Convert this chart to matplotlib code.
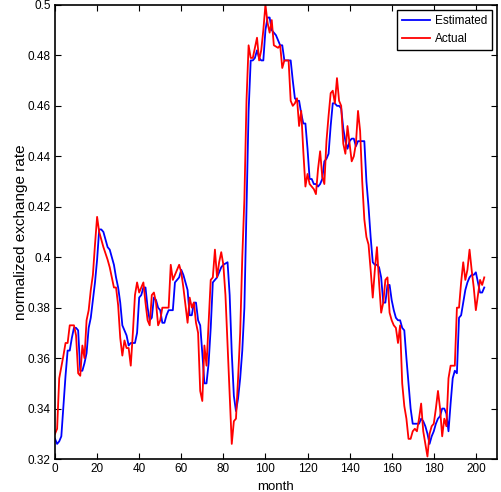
import matplotlib.pyplot as plt

plt.rcParams['font.family'] = ['Liberation Sans Narrow', 'Liberation Sans', 'DejaVu Sans']

# Actual (red)
actual_month = [0, 1, 2, 4, 5, 6, 7, 9, 10, 11, 12, 13, 14, 15, 16, 17, 18, 19, 20,
                21, 22, 23, 25, 26, 28, 29, 30, 31, 32, 33, 34, 35, 36, 37, 38, 39,
                40, 41, 42, 43, 44, 45, 46, 47, 48, 49, 50, 51, 52, 54, 55, 56, 57,
                59, 60, 61, 63, 64, 65, 66, 67, 68, 69, 70, 71, 72, 74, 75, 76, 77,
                78, 79, 80, 81, 82, 83, 84, 85, 86, 87, 88, 89, 90, 91, 92, 93, 94,
                95, 96, 97, 98, 99, 100, 101, 102, 103, 104, 106, 107, 108, 109, 111,
                112, 113, 114, 115, 116, 117, 118, 119, 120, 121, 123, 124, 125, 126,
                127, 128, 129, 130, 131, 132, 133, 134, 135, 136, 137, 138, 139, 140,
                141, 142, 143, 144, 145, 146, 147, 148, 149, 150, 151, 152, 153, 154,
                155, 156, 157, 158, 159, 160, 161, 162, 163, 164, 165, 166, 167, 168,
                169, 170, 171, 172, 173, 174, 175, 176, 177, 178, 179, 180, 181, 182,
                183, 184, 185, 186, 187, 188, 190, 191, 192, 193, 194, 195, 196, 197,
                198, 199, 200, 201, 202, 203, 204]
actual_val = [0.330, 0.332, 0.352, 0.361, 0.366, 0.366, 0.373, 0.373, 0.369, 0.354,
              0.353, 0.365, 0.360, 0.375, 0.379, 0.387, 0.393, 0.405, 0.416, 0.410,
              0.407, 0.404, 0.399, 0.396, 0.388, 0.388, 0.381, 0.368, 0.361, 0.367,
              0.364, 0.364, 0.357, 0.370, 0.385, 0.390, 0.386, 0.388, 0.390, 0.382,
              0.375, 0.373, 0.385, 0.386, 0.382, 0.373, 0.375, 0.380, 0.380, 0.380,
              0.397, 0.391, 0.393, 0.397, 0.394, 0.388, 0.374, 0.384, 0.380, 0.382,
              0.374, 0.370, 0.347, 0.343, 0.365, 0.357, 0.391, 0.392, 0.403, 0.392,
              0.398, 0.402, 0.397, 0.385, 0.365, 0.345, 0.326, 0.335, 0.336, 0.352,
              0.370, 0.400, 0.423, 0.462, 0.484, 0.479, 0.479, 0.483, 0.487, 0.478,
              0.482, 0.490, 0.500, 0.493, 0.489, 0.494, 0.484, 0.483, 0.484, 0.475,
              0.478, 0.478, 0.462, 0.460, 0.461, 0.463, 0.452, 0.458, 0.442, 0.428,
              0.433, 0.429, 0.427, 0.425, 0.435, 0.442, 0.432, 0.429, 0.446, 0.456,
              0.465, 0.466, 0.461, 0.471, 0.462, 0.460, 0.445, 0.441, 0.452, 0.445,
              0.438, 0.440, 0.445, 0.458, 0.450, 0.430, 0.415, 0.408, 0.405, 0.395,
              0.384, 0.395, 0.404, 0.390, 0.378, 0.382, 0.391, 0.392, 0.378, 0.375,
              0.373, 0.372, 0.366, 0.373, 0.350, 0.341, 0.336, 0.328, 0.328, 0.331,
              0.332, 0.331, 0.336, 0.342, 0.331, 0.326, 0.321, 0.330, 0.333, 0.334,
              0.340, 0.347, 0.340, 0.329, 0.336, 0.333, 0.352, 0.357, 0.357, 0.380,
              0.380, 0.390, 0.398, 0.391, 0.395, 0.403, 0.395, 0.388, 0.379, 0.385,
              0.391, 0.389, 0.392]

# Estimated (blue)
est_month = list(range(0, 81)) + [82] + list(range(83, 110)) + list(range(112, 205))
est_val = [0.328, 0.326, 0.327, 0.329, 0.341, 0.353, 0.363, 0.363, 0.368, 0.372,
           0.372, 0.371, 0.355, 0.355, 0.358, 0.362, 0.372, 0.376, 0.383, 0.390,
           0.399, 0.411, 0.411, 0.410, 0.407, 0.404, 0.403, 0.400, 0.397, 0.392,
           0.388, 0.382, 0.373, 0.371, 0.369, 0.365, 0.366, 0.366, 0.366, 0.370,
           0.384, 0.385, 0.388, 0.388, 0.380, 0.375, 0.376, 0.384, 0.383, 0.380,
           0.379, 0.374, 0.374, 0.377, 0.379, 0.379, 0.379, 0.390, 0.391, 0.392,
           0.395, 0.393, 0.390, 0.387, 0.377, 0.377, 0.382, 0.382, 0.375, 0.373,
           0.362, 0.350, 0.350, 0.358, 0.372, 0.390, 0.391, 0.392, 0.394, 0.396,
           0.397,
           0.398,
           0.385, 0.362, 0.345, 0.339, 0.344, 0.352, 0.363, 0.380, 0.420, 0.458,
           0.478, 0.478, 0.479, 0.482, 0.479, 0.478, 0.478, 0.490, 0.495, 0.495,
           0.490, 0.489, 0.488, 0.486, 0.484, 0.484, 0.478,
           0.478, 0.470, 0.463, 0.462, 0.462, 0.457, 0.453, 0.453, 0.443, 0.431,
           0.431, 0.429, 0.429, 0.428, 0.429, 0.431, 0.438, 0.439, 0.441, 0.452,
           0.461, 0.461, 0.460, 0.460, 0.459, 0.451, 0.446, 0.443, 0.446, 0.447,
           0.447, 0.444, 0.446, 0.446, 0.446, 0.446, 0.430, 0.420, 0.408, 0.398,
           0.397, 0.397, 0.396, 0.392, 0.382, 0.382, 0.389, 0.389, 0.383, 0.379,
           0.376, 0.375, 0.375, 0.372, 0.371, 0.360, 0.350, 0.340, 0.334, 0.334,
           0.334, 0.334, 0.336, 0.335, 0.333, 0.330, 0.326, 0.329, 0.331, 0.334,
           0.336, 0.337, 0.340, 0.340, 0.338, 0.331, 0.342, 0.352, 0.355, 0.354,
           0.376, 0.377, 0.382, 0.387, 0.390, 0.392, 0.393, 0.393, 0.394, 0.390,
           0.386, 0.386, 0.388]

xticks = list(range(0, 201, 20))
yticks = [0.32, 0.34, 0.36, 0.38, 0.40, 0.42, 0.44, 0.46, 0.48, 0.50]
ytick_labels = ['0.32', '0.34', '0.36', '0.38', '0.4', '0.42', '0.44', '0.46', '0.48', '0.5']

fig = plt.figure(figsize=(5.01, 4.92), dpi=100)
ax = fig.add_axes([0.1098, 0.067, 0.882, 0.923])

ax.plot(est_month, est_val, color='#0000ff', lw=1.3, label='Estimated')
ax.plot(actual_month, actual_val, color='#ff0000', lw=1.3, label='Actual')

ax.set_xlim(0, 210)
ax.set_ylim(0.32, 0.5)
ax.set_xticks(xticks)
ax.set_yticks(yticks)
ax.set_yticklabels(ytick_labels)
ax.tick_params(direction='in', top=True, right=True, labelsize=8.5, length=4, pad=3)
for s in ax.spines.values():
    s.set_linewidth(1.2)

ax.set_xlabel('month', fontsize=9.5)
ax.xaxis.set_label_coords(0.5, -0.048)
ax.set_ylabel('normalized exchange rate', fontsize=11)
ax.yaxis.set_label_coords(-0.062, 0.5)

leg = ax.legend(loc='upper right', fontsize=8.5, fancybox=False, framealpha=1,
                edgecolor='black', borderaxespad=0.45, handlelength=2.4,
                handletextpad=0.4)
leg.get_frame().set_linewidth(1.0)

plt.savefig('out.png', dpi=100)
